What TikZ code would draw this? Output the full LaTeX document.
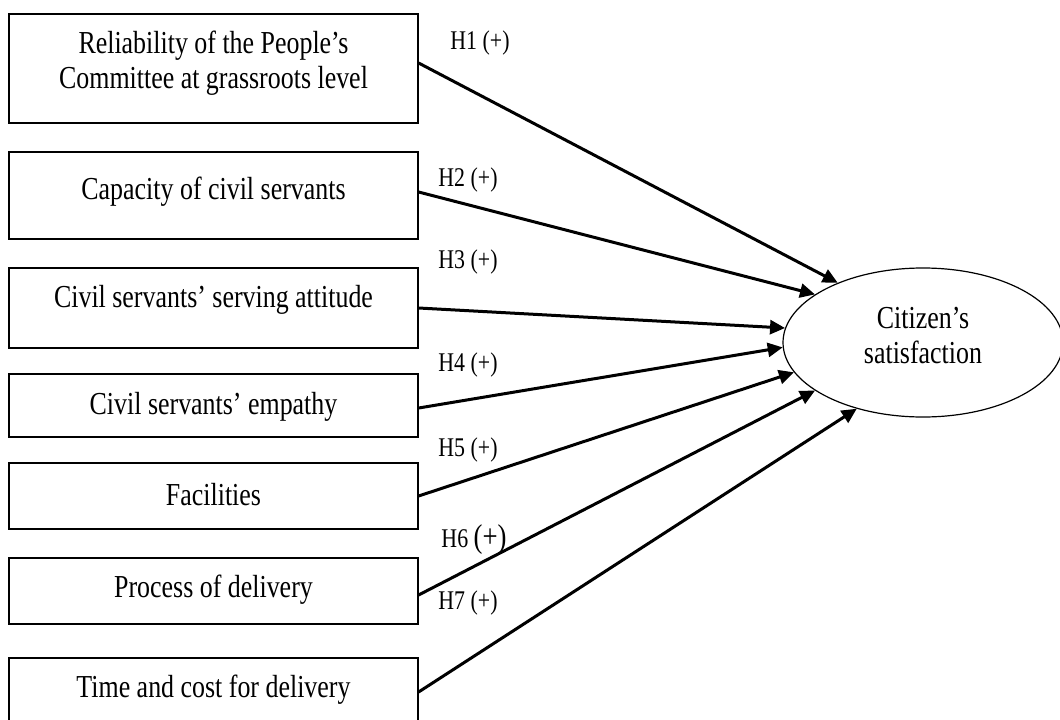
\documentclass[tikz,border=0pt]{standalone}
\usepackage{fontspec}
\setmainfont{Liberation Serif}[FakeStretch=0.81]
\usetikzlibrary{shapes.geometric,arrows.meta}
\begin{document}
\begin{tikzpicture}[x=1pt,y=-1pt,
  box/.style={draw,line width=1.2pt,minimum width=409pt,inner sep=0pt,anchor=center},
  txt/.style={font=\fontsize{32}{35}\selectfont,align=center,inner sep=0pt},
  hyp/.style={font=\fontsize{27}{30}\selectfont,inner sep=0pt},
  arr/.style={line width=3pt,-{Triangle[length=15pt,width=14pt]}},
  ell/.style={draw,ellipse,line width=1.2pt,minimum width=280pt,minimum height=149pt,inner sep=0pt}]
\useasboundingbox (0,0) rectangle (1060,720);
\clip (0,0) rectangle (1060,720);
% boxes
\node[box,minimum height=109pt] (b1) at (213.5,68.5) {};
\node[box,minimum height=87pt]  (b2) at (213.5,195.5) {};
\node[box,minimum height=80pt]  (b3) at (213.5,308) {};
\node[box,minimum height=63pt]  (b4) at (213.5,405.5) {};
\node[box,minimum height=66pt]  (b5) at (213.5,496) {};
\node[box,minimum height=66pt]  (b6) at (213.5,591) {};
\node[box,minimum height=70pt]  (b7) at (213.5,693) {};
% texts
\node[txt] (t1) at (213.5,63) {Reliability of the People’s\\Committee at grassroots level};
\node[txt] (t2) at (213.5,192) {Capacity of civil servants};
\node[txt] (t3) at (213.5,300) {Civil servants’ serving attitude};
\node[txt] (t4) at (213.5,407) {Civil servants’ empathy};
\node[txt] (t5) at (213.5,495) {Facilities};
\node[txt] (t6) at (213.5,590) {Process of delivery};
\node[txt] (t7) at (213.5,690) {Time and cost for delivery};
% ellipse
\node[ell] (e) at (923,342.5) {};
\node[txt] (et) at (923,336) {Citizen’s\\satisfaction};
% arrows
\draw[arr] ([yshift=5.5pt]b1.east) -- (e.145.9);
\draw[arr] ([yshift=3.5pt]b2.east) -- (e.156.7);
\draw[arr] (b3.east) -- (e.174.1);
\draw[arr] ([yshift=-2.5pt]b4.east) -- (e.182.3);
\draw[arr] (b5.east) -- (e.193.1);
\draw[arr] ([yshift=-4pt]b6.east) -- (e.204.6);
\draw[arr] ([yshift=1pt]b7.east) -- (e.225.2);
% hypothesis labels
\node[hyp] (h1) at (480,43) {H1 (+)};
\node[hyp] (h2) at (468,180) {H2 (+)};
\node[hyp] (h3) at (468,262) {H3 (+)};
\node[hyp] (h4) at (468,365) {H4 (+)};
\node[hyp] (h5) at (468,450) {H5 (+)};
\node[hyp] (h6) at (474,540) {H6 {\fontsize{33}{34}\selectfont(+)}};
\node[hyp] (h7) at (468,603) {H7 (+)};
\end{tikzpicture}
\end{document}
